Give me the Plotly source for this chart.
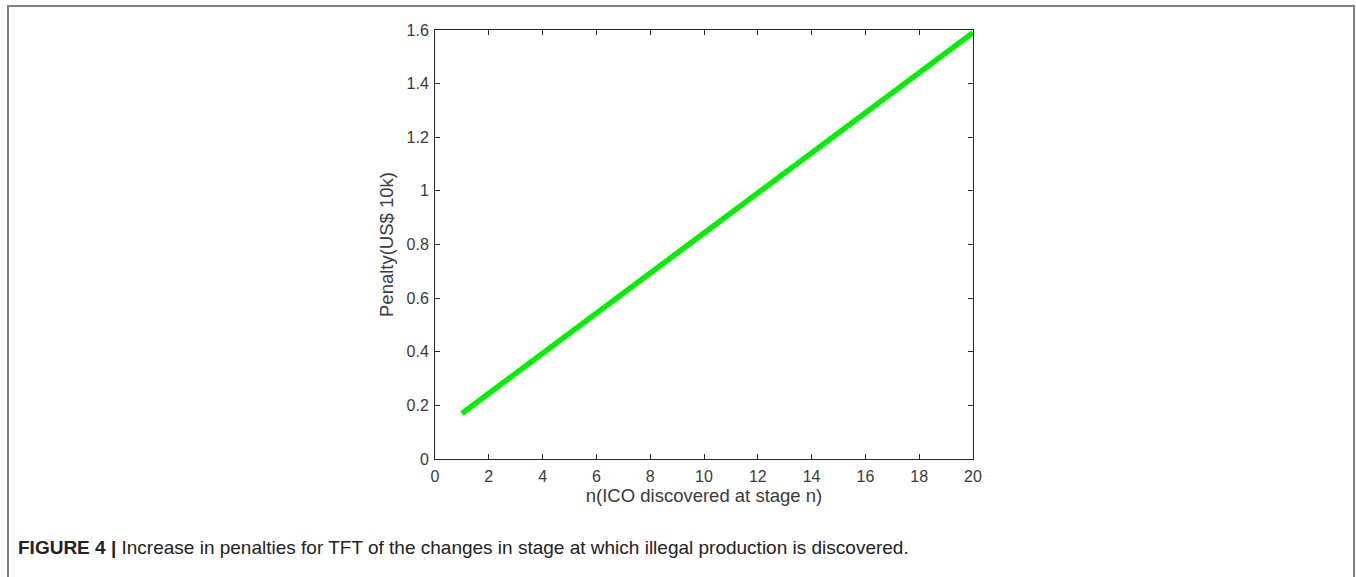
import plotly.graph_objects as go

# Data
stage_n = list(range(1, 21))
penalty = [0.170, 0.245, 0.319, 0.394, 0.469, 0.544, 0.618, 0.693, 0.768, 0.843,
           0.917, 0.992, 1.067, 1.141, 1.216, 1.291, 1.366, 1.440, 1.515, 1.590]
x_ticks = [0, 2, 4, 6, 8, 10, 12, 14, 16, 18, 20]
y_ticks = [0, 0.2, 0.4, 0.6, 0.8, 1.0, 1.2, 1.4, 1.6]
y_tick_text = ["0", "0.2", "0.4", "0.6", "0.8", "1", "1.2", "1.4", "1.6"]

W, H = 1356, 577
L, R, T, B = 435, 973, 30, 459  # plot area pixels

def px(x):
    return (x - L) / (R - L)

def py(y):
    return (B - y) / (B - T)

fig = go.Figure()
fig.add_trace(go.Scatter(x=stage_n, y=penalty, mode="lines",
                         line=dict(color="#00ee00", width=5.5), showlegend=False))

axis_common = dict(showline=True, linecolor="#262626", linewidth=1, mirror="ticks",
                   ticks="inside", ticklen=5, tickcolor="#262626", showgrid=False,
                   zeroline=False, tickfont=dict(family="Liberation Sans", size=16, color="#3a3a3a"))

fig.update_xaxes(range=[0, 20], tickvals=x_ticks, ticklabelstandoff=3,
                 title=dict(text="n(ICO discovered at stage n)",
                            font=dict(family="Liberation Sans", size=18.5, color="#3a3a3a"), standoff=0),
                 **axis_common)
fig.update_yaxes(range=[0, 1.6], tickvals=y_ticks, ticktext=y_tick_text, ticklabelstandoff=2,
                 title=dict(text="Penalty(US$ 10k)",
                            font=dict(family="Liberation Sans", size=18.5, color="#3a3a3a"), standoff=8),
                 **axis_common)

# outer frame (left, top, right)
xl, xr, yt, yb = px(8), px(1354), py(6), py(580)
fig.add_shape(type="path", xref="paper", yref="paper",
              path=f"M {xl},{yb} L {xl},{yt} L {xr},{yt} L {xr},{yb}",
              line=dict(color="#808080", width=2))

fig.add_annotation(xref="paper", yref="paper", x=px(16), y=py(547), xanchor="left", yanchor="middle",
                   showarrow=False, align="left",
                   text="<b>FIGURE 4 |</b> Increase in penalties for TFT of the changes in stage at which illegal production is discovered.",
                   font=dict(family="Liberation Sans", size=19, color="#222222"))

fig.update_layout(width=W, height=H, margin=dict(l=L, r=W - R, t=T, b=H - B),
                  paper_bgcolor="white", plot_bgcolor="white")

fig.write_html("out.html", config={"displayModeBar": False},
               post_script="document.body.style.margin='0';document.body.style.overflow='hidden';")
